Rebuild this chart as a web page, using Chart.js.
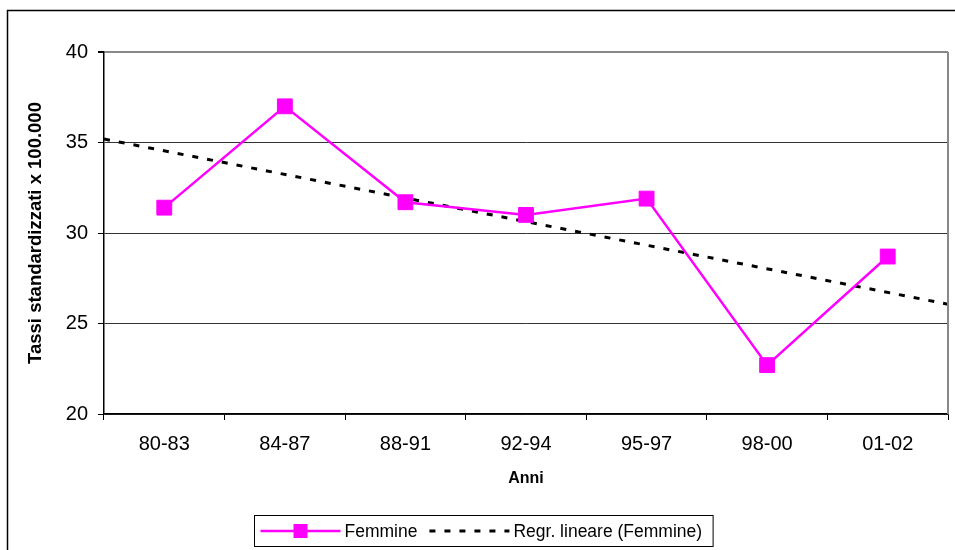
<!DOCTYPE html>
<html>
<head>
<meta charset="utf-8">
<script src="https://cdn.jsdelivr.net/npm/chart.js@4/dist/chart.umd.min.js"></script>
<style>
  html, body { margin: 0; padding: 0; background: #fff; }
  #wrap { width: 955px; height: 550px; position: relative; }
</style>
</head>
<body>
<div id="wrap"><canvas id="c" width="955" height="550"></canvas></div>
<script>
// Periods and standardized rates (per 100,000), women
const periods = ['80-83', '84-87', '88-91', '92-94', '95-97', '98-00', '01-02'];
const femmine = [31.4, 37.0, 31.7, 31.0, 31.9, 22.7, 28.7];
const yTicks = [20, 25, 30, 35, 40];

const seriesLabel = 'Femmine';
const trendLabel = 'Regr. lineare (Femmine)';
const titleY = 'Tassi standardizzati x 100.000';
const titleX = 'Anni';

const FONT = '"Liberation Sans", Arial, Helvetica, sans-serif';
const MAGENTA = '#FF00FF';

// Least-squares line over the category index
function linearFit(vals) {
  const n = vals.length;
  let sx = 0, sy = 0, sxx = 0, sxy = 0;
  vals.forEach((y, x) => { sx += x; sy += y; sxx += x * x; sxy += x * y; });
  const slope = (n * sxy - sx * sy) / (n * sxx - sx * sx);
  const intercept = (sy - slope * sx) / n;
  return { slope, intercept };
}
const fit = linearFit(femmine);
// the trend spans the full plot width (half a category beyond each end)
const trendPoints = [-0.5, periods.length - 0.5].map(x => ({ x, y: fit.intercept + fit.slope * x }));

// Outer frame, plot right border and boxed legend
const decorations = {
  id: 'decorations',
  beforeDraw(chart) {
    const ctx = chart.ctx;
    ctx.save();
    ctx.strokeStyle = '#000';
    ctx.lineWidth = 1.5;
    ctx.beginPath();
    ctx.moveTo(7.5, 560);
    ctx.lineTo(7.5, 10.5);
    ctx.lineTo(960, 10.5);
    ctx.stroke();
    ctx.restore();
  },
  afterDraw(chart) {
    const ctx = chart.ctx;
    const a = chart.chartArea;
    ctx.save();
    ctx.strokeStyle = '#888';
    ctx.lineWidth = 2;
    ctx.beginPath();
    ctx.moveTo(a.right, a.top);
    ctx.lineTo(a.right, a.bottom);
    ctx.stroke();

    // legend
    ctx.font = '17.5px ' + FONT;
    const w1 = ctx.measureText(seriesLabel).width;
    const w2 = ctx.measureText(trendLabel).width;
    const sample = 80;
    const boxW = 6 + sample + 4 + w1 + 12 + sample + 4 + w2 + 11;
    const boxH = 31;
    const cx = 483;
    const left = Math.round(cx - boxW / 2) + 0.5;
    const top = 515.5;
    const midY = top + boxH / 2;

    ctx.fillStyle = '#fff';
    ctx.fillRect(left, top, boxW, boxH);
    ctx.strokeStyle = '#000';
    ctx.lineWidth = 1;
    ctx.strokeRect(left, top, boxW, boxH);

    let x = left + 6;
    ctx.strokeStyle = MAGENTA;
    ctx.lineWidth = 2.5;
    ctx.beginPath();
    ctx.moveTo(x, midY);
    ctx.lineTo(x + sample, midY);
    ctx.stroke();
    ctx.fillStyle = MAGENTA;
    ctx.fillRect(x + sample / 2 - 7, midY - 7, 14, 14);
    x += sample + 4;
    ctx.fillStyle = '#000';
    ctx.textBaseline = 'middle';
    ctx.textAlign = 'left';
    ctx.fillText(seriesLabel, x, midY + 1);
    x += w1 + 12;

    ctx.strokeStyle = '#000';
    ctx.lineWidth = 3;
    ctx.setLineDash([6, 9]);
    ctx.beginPath();
    ctx.moveTo(x, midY);
    ctx.lineTo(x + sample, midY);
    ctx.stroke();
    ctx.setLineDash([]);
    x += sample + 4;
    ctx.fillText(trendLabel, x, midY + 1);
    ctx.restore();
  }
};

new Chart(document.getElementById('c'), {
  type: 'line',
  data: {
    labels: periods,
    datasets: [
      {
        label: trendLabel,
        data: trendPoints,
        xAxisID: 'xTrend',
        borderColor: '#000',
        borderWidth: 3,
        borderDash: [6, 9],
        pointRadius: 0,
        fill: false,
        order: 2
      },
      {
        label: seriesLabel,
        data: femmine,
        xAxisID: 'x',
        borderColor: MAGENTA,
        backgroundColor: MAGENTA,
        borderWidth: 2.5,
        pointStyle: 'rect',
        pointRadius: 10.5,
        pointBorderWidth: 1,
        pointBackgroundColor: MAGENTA,
        pointBorderColor: MAGENTA,
        tension: 0,
        fill: false,
        order: 1
      }
    ]
  },
  options: {
    responsive: false,
    animation: false,
    devicePixelRatio: 1,
    layout: { autoPadding: false, padding: { top: 52, right: 7, left: 0, bottom: 0 } },
    plugins: {
      legend: { display: false },
      tooltip: { enabled: false }
    },
    scales: {
      x: {
        type: 'category',
        offset: true,
        grid: {
          offset: true,
          drawOnChartArea: false,
          color: '#000',
          tickColor: '#000',
          tickLength: 6
        },
        border: { color: '#000', width: 1.5 },
        ticks: {
          color: '#000',
          font: { family: FONT, size: 20 },
          padding: 12,
          autoSkip: false,
          maxRotation: 0
        },
        title: {
          display: true,
          text: titleX,
          color: '#000',
          font: { family: FONT, size: 16, weight: 'bold' },
          padding: { top: 0, bottom: 62 }
        },
        afterFit(scale) {
          scale.height = 136;
          scale.paddingLeft = 0;
          scale.paddingRight = 0;
        }
      },
      xTrend: {
        type: 'linear',
        min: -0.5,
        max: periods.length - 0.5,
        display: false
      },
      y: {
        min: yTicks[0],
        max: yTicks[yTicks.length - 1],
        afterBuildTicks(scale) { scale.ticks = yTicks.map(v => ({ value: v })); },
        grid: {
          color: ctx => (ctx.tick && ctx.tick.value === yTicks[yTicks.length - 1]) ? '#888' : '#333',
          lineWidth: ctx => (ctx.tick && ctx.tick.value === yTicks[yTicks.length - 1]) ? 2 : 1,
          tickColor: '#000',
          tickLength: 6
        },
        border: { color: '#000', width: 1.5 },
        ticks: {
          color: '#000',
          font: { family: FONT, size: 20 },
          padding: 10
        },
        title: {
          display: true,
          text: titleY,
          color: '#000',
          font: { family: FONT, size: 18.5, weight: 'bold' },
          padding: { top: 25, bottom: 0 }
        },
        afterFit(scale) {
          scale.width = 104;
          scale.paddingTop = 0;
          scale.paddingBottom = 0;
        }
      }
    }
  },
  plugins: [decorations]
});
</script>
</body>
</html>
